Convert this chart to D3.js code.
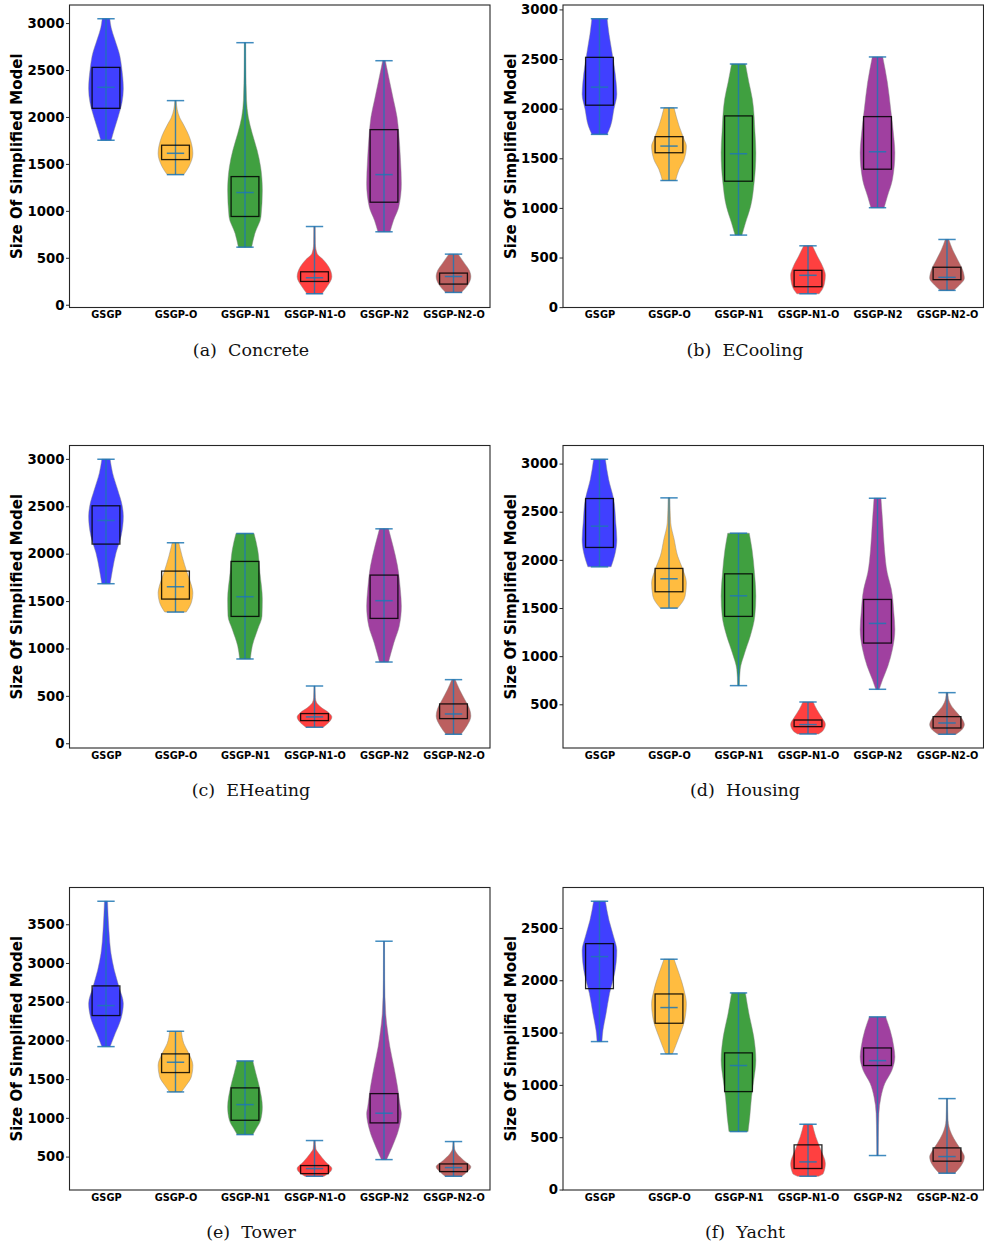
<!DOCTYPE html>
<html><head><meta charset="utf-8">
<script src="https://cdn.jsdelivr.net/npm/d3@7"></script>
<style>body{margin:0;background:#fff}svg{display:block}</style>
</head><body><svg id="chart" width="984" height="1249"></svg>
<script>
// ---------------- data ----------------
const categories = ["GSGP","GSGP-O","GSGP-N1","GSGP-N1-O","GSGP-N2","GSGP-N2-O"];
const violinColors = ["blue","orange","green","red","purple","brown"];
const panelLetters = ["(a)","(b)","(c)","(d)","(e)","(f)"];
const datasetNames = ["Concrete","ECooling","EHeating","Housing","Tower","Yacht"];
const yLabel = "Size Of Simplified Model";

const ticksA = [0,500,1000,1500,2000,2500,3000];
const ticksB = [0,500,1000,1500,2000,2500,3000];
const ticksC = [0,500,1000,1500,2000,2500,3000];
const ticksD = [500,1000,1500,2000,2500,3000];
const ticksE = [500,1000,1500,2000,2500,3000,3500];
const ticksF = [0,500,1000,1500,2000,2500];

// (a) Concrete
const minA  = [1752,1386,613,117,777,131];
const maxA  = [3046,2174,2791,833,2599,539];
const q1A   = [2092,1546,940,248,1092,220];
const q3A   = [2528,1699,1365,351,1865,337];
const meanA = [2316,1613,1195,287,1386,301];
const shapeA = [
  [[3046,.22],[2950,.3],[2830,.5],[2650,.8],[2530,.9],[2300,1],[2150,.92],[2000,.7],[1850,.45],[1752,.3]],
  [[2174,.04],[2080,.1],[1990,.25],[1930,.43],[1750,.87],[1610,1],[1470,.77],[1386,.48]],
  [[2791,.04],[2530,.05],[2180,.09],[2000,.19],[1823,.42],[1645,.7],[1468,.9],[1220,1],[936,.92],[760,.57],[613,.38]],
  [[833,.04],[650,.05],[546,.15],[475,.53],[404,.82],[298,1],[191,.72],[117,.43]],
  [[2599,.08],[2532,.15],[2355,.35],[2177,.55],[2000,.75],[1823,.85],[1540,.95],[1290,1],[1042,.85],[900,.55],[777,.35]],
  [[539,.27],[440,.64],[369,.9],[298,1],[209,.82],[131,.45]]
];

// (b) ECooling
const minB  = [1741,1276,726,135,1002,169];
const maxB  = [2906,2008,2450,618,2521,682];
const q1B   = [2035,1556,1269,206,1390,277];
const q3B   = [2517,1718,1927,371,1920,402];
const meanB = [2217,1623,1546,321,1566,300];
const shapeB = [
  [[2906,.44],[2750,.55],[2602,.69],[2264,.96],[2146,1],[1994,.83],[1826,.64],[1741,.44]],
  [[2008,.29],[1826,.58],[1691,.87],[1623,1],[1488,.87],[1387,.58],[1276,.38]],
  [[2450,.4],[2264,.6],[2096,.8],[1758,.95],[1556,1],[1252,.9],[1016,.7],[847,.4],[726,.2]],
  [[618,.25],[510,.55],[408,.85],[324,1],[240,.95],[172,.8],[135,.64]],
  [[2521,.3],[2264,.57],[1994,.76],[1691,.95],[1556,1],[1286,.86],[1117,.57],[1002,.38]],
  [[682,.1],[577,.33],[476,.62],[375,.9],[290,1],[223,.72],[169,.38]]
];

// (c) EHeating
const minC  = [1683,1384,889,169,857,95];
const maxC  = [2996,2115,2213,604,2262,671];
const q1C   = [2101,1521,1338,239,1317,260];
const q3C   = [2505,1816,1918,313,1774,415];
const meanC = [2350,1651,1546,278,1504,309];
const shapeC = [
  [[2996,.24],[2852,.38],[2677,.67],[2501,.94],[2396,1],[2185,.87],[2009,.58],[1834,.38],[1683,.24]],
  [[2115,.19],[1974,.38],[1799,.67],[1658,.93],[1588,1],[1482,.91],[1384,.62]],
  [[2213,.52],[2044,.73],[1799,.86],[1518,1],[1342,.98],[1201,.73],[1026,.42],[889,.31]],
  [[604,.03],[480,.05],[429,.12],[376,.4],[323,.82],[278,1],[218,.82],[169,.5]],
  [[2262,.26],[2080,.52],[1869,.78],[1623,.94],[1447,1],[1237,.88],[1061,.57],[857,.26]],
  [[671,.1],[569,.34],[464,.64],[358,.93],[288,1],[183,.77],[95,.43]]
];

// (d) Housing
const minD  = [1928,1499,694,192,656,189];
const maxD  = [3045,2644,2277,524,2640,621];
const q1D   = [2129,1669,1413,268,1136,254];
const q3D   = [2637,1911,1855,337,1589,372];
const meanD = [2350,1804,1627,289,1340,306];
const shapeD = [
  [[3045,.34],[2834,.53],[2627,.82],[2384,.94],[2212,1],[2073,.91],[1928,.67]],
  [[2644,.05],[2384,.1],[2212,.3],[2039,.5],[1900,.8],[1762,1],[1624,.93],[1499,.5]],
  [[2277,.62],[2108,.78],[1866,.92],[1624,1],[1416,.94],[1209,.68],[1036,.36],[863,.1],[694,.05]],
  [[524,.3],[448,.5],[362,.8],[293,1],[224,.85],[192,.6]],
  [[2640,.2],[2384,.3],[2108,.4],[1866,.56],[1693,.8],[1451,.94],[1278,1],[1071,.86],[898,.6],[759,.3],[656,.1]],
  [[621,.05],[560,.08],[483,.26],[414,.57],[327,.94],[293,1],[241,.88],[189,.52]]
];

// (e) Tower
const minE  = [1920,1335,784,246,461,246];
const maxE  = [3797,2118,1735,707,3281,694];
const q1E   = [2321,1585,969,280,935,306];
const q3E   = [2704,1826,1387,384,1313,405];
const meanE = [2450,1718,1171,345,1060,358];
const shapeE = [
  [[3797,.09],[3423,.17],[3121,.29],[2906,.48],[2691,.75],[2476,1],[2260,.84],[2088,.53],[1920,.24]],
  [[2118,.34],[1959,.48],[1830,.77],[1679,1],[1529,.91],[1421,.62],[1335,.34]],
  [[1735,.45],[1572,.63],[1400,.83],[1141,1],[969,.9],[861,.65],[784,.45]],
  [[707,.04],[600,.08],[539,.25],[431,.65],[345,1],[280,.8],[246,.55]],
  [[3281,.03],[2777,.04],[2347,.1],[2131,.2],[1916,.34],[1658,.57],[1400,.78],[1141,.94],[1055,1],[840,.83],[625,.47],[461,.15]],
  [[694,.03],[600,.06],[539,.2],[453,.58],[367,1],[302,.77],[246,.48]]
];

// (f) Yacht
const minF  = [1414,1296,554,127,325,156];
const maxF  = [2755,2201,1879,624,1650,869];
const q1F   = [1920,1589,936,201,1185,271];
const q3F   = [2350,1869,1306,427,1353,398];
const meanF = [2226,1739,1185,264,1232,315];
const shapeF = [
  [[2755,.34],[2573,.55],[2414,.82],[2287,1],[2064,.87],[1873,.58],[1682,.38],[1522,.2],[1414,.14]],
  [[2201,.29],[2064,.58],[1904,.87],[1777,1],[1618,.9],[1459,.58],[1296,.2]],
  [[1879,.4],[1682,.6],[1459,.88],[1236,1],[1045,.88],[885,.75],[694,.65],[554,.55]],
  [[624,.25],[503,.45],[376,.75],[248,1],[153,.88],[127,.6]],
  [[1650,.47],[1522,.73],[1363,.94],[1268,1],[1140,.83],[1013,.42],[885,.2],[726,.08],[500,.05],[325,.04]],
  [[869,.03],[662,.06],[535,.25],[439,.57],[360,.88],[312,1],[232,.83],[156,.45]]
];

const panels = [
  {min:minA,max:maxA,q1:q1A,q3:q3A,mean:meanA,shape:shapeA,ticks:ticksA},
  {min:minB,max:maxB,q1:q1B,q3:q3B,mean:meanB,shape:shapeB,ticks:ticksB},
  {min:minC,max:maxC,q1:q1C,q3:q3C,mean:meanC,shape:shapeC,ticks:ticksC},
  {min:minD,max:maxD,q1:q1D,q3:q3D,mean:meanD,shape:shapeD,ticks:ticksD},
  {min:minE,max:maxE,q1:q1E,q3:q3E,mean:meanE,shape:shapeE,ticks:ticksE},
  {min:minF,max:maxF,q1:q1F,q3:q3F,mean:meanF,shape:shapeF,ticks:ticksF}
];

// ---------------- layout ----------------
const svg = d3.select("#chart");
const colLeft = [69.5, 563];
const rowTop = [5, 445.5, 887.5];
const pw = 420.5, ph = 302.5;
const captionCx = [251, 745];
const lineBlue = "#1f77b4";
const spine = "#262626";

panels.forEach((p, i) => {
  const col = i % 2, row = Math.floor(i / 2);
  const left = colLeft[col], top = rowTop[row];
  const g = svg.append("g");

  const x = d3.scaleLinear().domain([0.475, 6.525]).range([left, left + pw]);
  const lo = d3.min(p.min), hi = d3.max(p.max), r = hi - lo;
  const y = d3.scaleLinear().domain([lo - 0.05 * r, hi + 0.05 * r]).range([top + ph, top]);
  const unit = x(1) - x(0);
  const vHalf = 0.25 * unit, bHalf = 0.2 * unit, cHalf = 0.125 * unit;

  // violins
  categories.forEach((c, k) => {
    const pos = k + 1;
    const area = d3.area()
      .curve(d3.curveMonotoneY)
      .y(d => y(d[0]))
      .x0(d => x(pos) - d[1] * vHalf)
      .x1(d => x(pos) + d[1] * vHalf);
    g.append("path")
      .attr("d", area(p.shape[k]))
      .attr("fill", violinColors[k])
      .attr("fill-opacity", 0.75)
      .attr("stroke", "#888")
      .attr("stroke-opacity", 0.45)
      .attr("stroke-width", 1);
  });

  // blue bars, caps, means, boxes
  categories.forEach((c, k) => {
    const cx = x(k + 1);
    g.append("line").attr("x1", cx).attr("x2", cx)
      .attr("y1", y(p.max[k])).attr("y2", y(p.min[k]))
      .attr("stroke", lineBlue).attr("stroke-width", 1.4).attr("stroke-opacity", 0.85);
    [p.max[k], p.min[k], p.mean[k]].forEach(v => {
      g.append("line").attr("x1", cx - cHalf).attr("x2", cx + cHalf)
        .attr("y1", y(v)).attr("y2", y(v))
        .attr("stroke", lineBlue).attr("stroke-width", 1.5).attr("stroke-opacity", 0.85);
    });
    g.append("rect")
      .attr("x", cx - bHalf).attr("width", 2 * bHalf)
      .attr("y", y(p.q3[k])).attr("height", y(p.q1[k]) - y(p.q3[k]))
      .attr("fill", "none").attr("stroke", "#000")
      .attr("stroke-opacity", 0.85).attr("stroke-width", 1.3);
  });

  // axes
  const yAxis = d3.axisLeft(y).tickValues(p.ticks).tickFormat(d3.format("d"))
    .tickSize(3.5).tickPadding(1.5);
  const ya = g.append("g").attr("transform", `translate(${left},0)`).call(yAxis);
  ya.select(".domain").remove();
  ya.selectAll("line").attr("stroke", spine).attr("stroke-width", 1);
  ya.selectAll("text").attr("font-family", "DejaVu Sans").attr("font-weight", "bold")
    .attr("font-size", 13.3).attr("fill", "#000");

  const xAxis = d3.axisBottom(x).tickValues([1,2,3,4,5,6])
    .tickFormat(v => categories[v - 1]).tickSize(0).tickPadding(4);
  const xa = g.append("g").attr("transform", `translate(0,${top + ph})`).call(xAxis);
  xa.select(".domain").remove();
  xa.selectAll("line").remove();
  xa.selectAll("text").attr("font-family", "DejaVu Sans").attr("font-weight", "bold")
    .attr("font-size", 9.8).attr("fill", "#000");

  // frame
  g.append("rect").attr("x", left).attr("y", top).attr("width", pw).attr("height", ph)
    .attr("fill", "none").attr("stroke", spine).attr("stroke-width", 1.1);

  // y label
  g.append("text")
    .attr("transform", `translate(${left - 47.4},${top + ph / 2}) rotate(-90)`)
    .attr("text-anchor", "middle")
    .attr("font-family", "DejaVu Sans").attr("font-weight", "bold")
    .attr("font-size", 15).attr("fill", "#000")
    .text(yLabel);

  // caption
  g.append("text")
    .attr("x", captionCx[col]).attr("y", top + ph + 48)
    .attr("text-anchor", "middle")
    .attr("font-family", "DejaVu Serif").attr("font-size", 17.5).attr("fill", "#111")
    .style("white-space", "pre")
    .text(panelLetters[i] + "  " + datasetNames[i]);
});
</script>
</body></html>
